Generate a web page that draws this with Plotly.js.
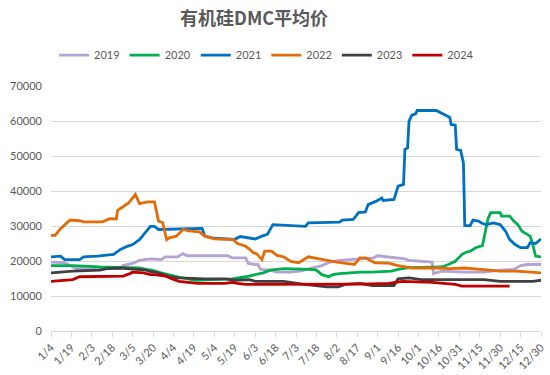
<!DOCTYPE html>
<html>
<head>
<meta charset="utf-8">
<script src="https://cdn.plot.ly/plotly-3.0.1.min.js"></script>
<style>html,body{margin:0;padding:0;background:#fff;}#chart{width:550px;height:375px;}</style>
</head>
<body>
<div id="chart"></div>
<script>
// x = day of year (non-leap), tick labels every 15 days
const tickDays = [4,19,34,49,64,79,94,109,124,139,154,169,184,199,214,229,244,259,274,289,304,319,334,349,364];
const tickLabels = ["1/4","1/19","2/3","2/18","3/5","3/20","4/4","4/19","5/4","5/19","6/3","6/18","7/3","7/18","8/2","8/17","9/1","9/16","10/1","10/16","10/31","11/15","11/30","12/15","12/30"];
const seriesNames = ["2019","2020","2021","2022","2023","2024"];

const days2019 = [4,14,20,23,55,57,64,69,77,85,88,97,101,104,134,137,147,149,154,156,158,165,170,180,187,199,203,209,216,224,231,241,244,249,264,267,284,285,291,309,322,334,344,349,354,364];
const vals2019 = [19700,19500,18300,17800,17800,18700,19300,20200,20600,20400,21200,21200,22100,21500,21500,20900,20900,19300,19000,19000,17600,17400,16800,16800,17100,18300,18700,19700,20200,20400,20600,20900,21500,21300,20600,20200,19700,16400,17100,16800,16800,17400,17600,18700,19000,19000];

const days2020 = [4,20,40,60,69,74,78,85,90,97,110,122,137,147,154,160,165,175,194,199,203,208,211,216,231,240,254,259,267,291,296,301,306,309,312,316,321,323,325,327,334,335,341,344,347,350,354,356,358,360,364];
const vals2020 = [18700,18700,18300,18000,18000,17600,17400,16600,16100,15500,14500,14700,14900,15500,16100,16600,17400,17800,17600,17400,16100,15500,16100,16400,16800,16800,17100,17600,18100,18300,19000,19900,21900,22500,22800,23800,24400,28000,32000,33800,33800,32800,32800,31400,30400,28500,27600,27100,24700,21400,21200];

const days2021 = [4,11,14,25,28,38,50,55,60,64,69,73,77,80,83,115,117,124,139,143,154,159,163,167,182,191,193,216,218,226,227,230,235,237,243,247,248,256,259,263,264,266,267,269,272,273,287,291,295,297,298,301,302,305,307,308,312,314,318,321,324,329,334,338,341,345,349,354,356,360,364];
const vals2021 = [21200,21400,20400,20400,21200,21400,21900,23300,24200,24700,26100,28000,29900,29900,29000,29300,27100,26500,26200,27000,26300,27100,27600,30400,30100,29900,30900,31100,31700,31900,32300,33800,34000,36100,37100,38000,37300,37600,41400,41900,51900,52300,59900,61600,62100,63000,63000,62300,61400,61000,59000,58800,51900,51600,48000,30100,30100,31700,31400,30700,30400,30900,30400,28500,26100,24700,23800,23800,25200,25000,26300];

const days2022 = [4,7,11,18,25,28,42,47,52,53,61,66,69,75,80,83,86,89,91,96,101,105,113,117,124,138,141,147,150,153,155,159,161,166,170,175,180,186,193,200,207,214,224,227,231,235,242,252,259,269,288,297,308,322,334,346,364];
const vals2022 = [27300,27300,29200,31700,31500,31200,31200,32100,32000,34500,36600,39000,36400,36900,36900,31400,31000,26100,26600,27100,29000,28600,28300,27100,26300,26100,25000,24200,23300,22300,22100,20400,22800,22800,21600,21200,19900,19500,21200,20800,20200,19700,19000,19000,20900,20900,19500,19400,18700,18000,18000,17800,18000,17600,17100,17100,16600];

const days2023 = [4,11,20,40,45,55,64,74,76,83,91,98,117,132,139,150,154,175,190,199,207,215,220,231,240,256,259,267,271,276,308,322,334,358,364];
const vals2023 = [16600,16800,17100,17400,17800,18000,17800,17400,17100,16600,15500,15200,14900,14900,14500,14700,14200,14200,13300,13000,12600,12600,13300,13600,13000,13000,14900,15200,14900,14700,14700,14700,14200,14200,14500];

const days2024 = [4,13,20,25,57,62,64,72,77,80,88,93,98,105,112,132,137,141,147,231,252,262,284,301,306,341];
const vals2024 = [14200,14500,14700,15500,15700,16400,16800,16600,16100,16100,15700,14900,14200,13900,13600,13600,13900,13600,13300,13400,13600,14200,13900,13300,12800,12800];

const colors = ["#B3A2D4","#00B050","#0070C0","#E36C0A","#404040","#C00000"];
const allDays = [days2019,days2020,days2021,days2022,days2023,days2024];
const allVals = [vals2019,vals2020,vals2021,vals2022,vals2023,vals2024];

const yTicks = [0,10000,20000,30000,40000,50000,60000,70000];

const traces = seriesNames.map((n,i)=>({
  type:'scatter', mode:'lines', name:n,
  x: allDays[i], y: allVals[i],
  line:{color:colors[i], width:2.8},
  hoverinfo:'skip'
}));

const layout = {
  width:550, height:375,
  margin:{l:51, r:9, t:86, b:43.5},
  paper_bgcolor:'#ffffff', plot_bgcolor:'#ffffff',
  font:{family:'Lato, "Noto Sans CJK SC", sans-serif', color:'#595959', size:11},
  title:{text:'<b>有机硅DMC平均价</b>', font:{family:'"Noto Sans CJK SC", sans-serif', size:18, color:'#595959'},
         x:0.462, xref:'container', xanchor:'center', y:0.95, yref:'container', yanchor:'middle'},
  showlegend:true,
  legend:{orientation:'h', x:0.44, xref:'paper', xanchor:'center', y:1.126, yanchor:'middle',
          font:{size:11, color:'#595959'}, itemwidth:30, traceorder:'normal'},
  xaxis:{type:'linear', range:[4,364], tickmode:'array', tickvals:tickDays, ticktext:tickLabels,
         tickangle:-45, showgrid:false, zeroline:false, showline:true, linecolor:'#D9D9D9', linewidth:1,
         ticks:'outside', ticklen:5, tickcolor:'#D9D9D9', tickfont:{size:11, color:'#595959'}},
  yaxis:{range:[0,70000], tickmode:'array', tickvals:yTicks, tickformat:'d',
         showgrid:true, gridcolor:'#D9D9D9', gridwidth:1, zeroline:false, showline:false,
         ticks:'', ticklabelstandoff:8, tickfont:{size:11, color:'#595959'}}
};

Plotly.newPlot('chart', traces, layout, {staticPlot:true, displayModeBar:false});
</script>
</body>
</html>
